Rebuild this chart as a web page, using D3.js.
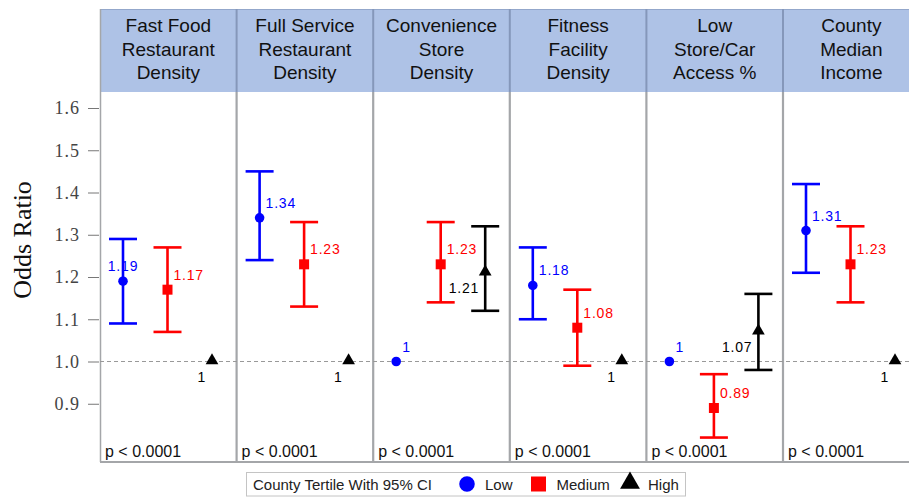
<!DOCTYPE html>
<html>
<head>
<meta charset="utf-8">
<script src="https://cdn.jsdelivr.net/npm/d3@7"></script>
<style>
    body { margin: 0; background: #fff; }
    svg { display: block; }
</style>
</head>
<body>
<svg id="chart" width="909" height="497"></svg>
<script>
// panel titles, one array of lines per panel
const panelTitles = [
    ["Fast Food", "Restaurant", "Density"],
    ["Full Service", "Restaurant", "Density"],
    ["Convenience", "Store", "Density"],
    ["Fitness", "Facility", "Density"],
    ["Low", "Store/Car", "Access %"],
    ["County", "Median", "Income"]
];
const tertiles = ["Low", "Medium", "High"];

// odds ratios and 95% CI per tertile (null = reference, no CI)
const estLow = [1.19, 1.34, 1, 1.18, 1, 1.31];
const lclLow = [1.09, 1.24, null, 1.10, null, 1.21];
const uclLow = [1.29, 1.45, null, 1.27, null, 1.42];

const estMed = [1.17, 1.23, 1.23, 1.08, 0.89, 1.23];
const lclMed = [1.07, 1.13, 1.14, 0.99, 0.82, 1.14];
const uclMed = [1.27, 1.33, 1.33, 1.17, 0.97, 1.32];

const estHigh = [1, 1, 1.21, 1, 1.07, 1];
const lclHigh = [null, null, 1.12, null, 0.98, null];
const uclHigh = [null, null, 1.32, null, 1.16, null];

const pLabels = ["p < 0.0001", "p < 0.0001", "p < 0.0001", "p < 0.0001", "p < 0.0001", "p < 0.0001"];
const yTicks = [0.9, 1.0, 1.1, 1.2, 1.3, 1.4, 1.5, 1.6];
const legendTitle = "County Tertile With 95% CI";

const colors = { Low: "#0000ff", Medium: "#ff0000", High: "#000000" };

const plotLeft = 100, plotTop = 92, plotBottom = 462, headTop = 9;
const panelW = 136.6;

var svg = d3.select("#chart");

var xPanel = d3.scaleBand()
    .domain(d3.range(panelTitles.length))
    .range([plotLeft, plotLeft + panelW * panelTitles.length])
    .padding(0);
var xInner = d3.scalePoint().domain(tertiles).range([23, 112]);
var y = d3.scaleLinear().domain([0.9, 1.6]).range([403.75, 108]);

// build rows
const series = [
    { t: "Low", est: estLow, lcl: lclLow, ucl: uclLow },
    { t: "Medium", est: estMed, lcl: lclMed, ucl: uclMed },
    { t: "High", est: estHigh, lcl: lclHigh, ucl: uclHigh }
];
let rows = [];
for (let s of series) {
    for (let i = 0; i < panelTitles.length; i++) {
        let side = "right";
        if (s.t === "High") side = "belowLeft";
        if (s.t === "Low" && i === 0) side = "above";
        rows.push({ panel: i, t: s.t, est: s.est[i], lcl: s.lcl[i], ucl: s.ucl[i], side: side });
    }
}

// header band
svg.append("rect")
    .attr("x", plotLeft).attr("y", headTop)
    .attr("width", 909 - plotLeft).attr("height", plotTop - headTop)
    .attr("fill", "#aec2e6");
svg.append("line")
    .attr("x1", plotLeft).attr("x2", 909).attr("y1", headTop + 0.5).attr("y2", headTop + 0.5)
    .attr("stroke", "#93a7cb").attr("stroke-width", 1);

var heads = svg.selectAll(".head").data(panelTitles).enter().append("g")
    .attr("class", "head")
    .attr("transform", (d, i) => "translate(" + (xPanel(i) + panelW / 2) + ",0)");
heads.selectAll("text").data(d => d).enter().append("text")
    .attr("x", 0)
    .attr("y", (d, j) => 32 + j * 23.5)
    .attr("text-anchor", "middle")
    .style("font-family", "'Liberation Sans', Arial, sans-serif")
    .style("font-size", "19px")
    .style("fill", "#111")
    .text(d => d);

// panel separators
var seps = d3.range(1, panelTitles.length).map(i => xPanel(i));
svg.selectAll(".sepH").data(seps).enter().append("line")
    .attr("x1", d => d).attr("x2", d => d)
    .attr("y1", headTop).attr("y2", plotTop)
    .attr("stroke", "#8597ba").attr("stroke-width", 2);
svg.selectAll(".sepP").data(seps).enter().append("line")
    .attr("x1", d => d).attr("x2", d => d)
    .attr("y1", plotTop).attr("y2", plotBottom)
    .attr("stroke", "#a4a6a9").attr("stroke-width", 2.2);

// plot border
svg.append("line")
    .attr("x1", plotLeft + 0.5).attr("x2", plotLeft + 0.5)
    .attr("y1", headTop).attr("y2", plotBottom)
    .attr("stroke", "#a4a6a9").attr("stroke-width", 1.5);
svg.append("line")
    .attr("x1", plotLeft).attr("x2", 909)
    .attr("y1", plotBottom).attr("y2", plotBottom)
    .attr("stroke", "#a4a6a9").attr("stroke-width", 2);

// reference line at 1
svg.append("line")
    .attr("x1", plotLeft).attr("x2", 909)
    .attr("y1", y(1)).attr("y2", y(1))
    .attr("stroke", "#999").attr("stroke-width", 1)
    .attr("stroke-dasharray", "4,3");

// y axis
var yAxis = d3.axisLeft(y).tickValues(yTicks).tickFormat(d3.format(".1f")).tickSize(11).tickPadding(8);
var gy = svg.append("g").attr("transform", "translate(" + (plotLeft - 1) + ",0)").call(yAxis);
gy.select(".domain").remove();
gy.selectAll(".tick line").attr("stroke", "#777");
gy.selectAll(".tick text")
    .style("font-family", "'Liberation Serif', 'Times New Roman', serif")
    .style("font-size", "18px")
    .style("letter-spacing", "1px")
    .style("fill", "#444");

svg.append("text")
    .attr("transform", "translate(31,240) rotate(-90)")
    .attr("text-anchor", "middle")
    .style("font-family", "'Liberation Serif', 'Times New Roman', serif")
    .style("font-size", "26px")
    .style("fill", "#111")
    .text("Odds Ratio");

// error bars
var cx = d => xPanel(d.panel) + xInner(d.t);
var bars = rows.filter(d => d.lcl !== null);
var gb = svg.append("g");
gb.selectAll(".stem").data(bars).enter().append("line")
    .attr("x1", cx).attr("x2", cx)
    .attr("y1", d => y(d.lcl)).attr("y2", d => y(d.ucl))
    .attr("stroke", d => colors[d.t]).attr("stroke-width", 2.6);
gb.selectAll(".capU").data(bars).enter().append("line")
    .attr("x1", d => cx(d) - 14).attr("x2", d => cx(d) + 14)
    .attr("y1", d => y(d.ucl)).attr("y2", d => y(d.ucl))
    .attr("stroke", d => colors[d.t]).attr("stroke-width", 2.6);
gb.selectAll(".capL").data(bars).enter().append("line")
    .attr("x1", d => cx(d) - 14).attr("x2", d => cx(d) + 14)
    .attr("y1", d => y(d.lcl)).attr("y2", d => y(d.lcl))
    .attr("stroke", d => colors[d.t]).attr("stroke-width", 2.6);

// markers
var symbols = { Low: d3.symbolCircle, Medium: d3.symbolSquare, High: d3.symbolTriangle };
var sizes = { Low: 72, Medium: 100, High: 70 };
svg.selectAll(".mark").data(rows).enter().append("path")
    .attr("transform", d => "translate(" + cx(d) + "," + (y(d.est) - (d.t === "High" ? 1 : 0)) + ")")
    .attr("d", d => d3.symbol().type(symbols[d.t]).size(sizes[d.t])())
    .attr("fill", d => colors[d.t]);

// value labels
svg.selectAll(".val").data(rows).enter().append("text")
    .attr("x", d => d.side === "right" ? cx(d) + 6 : d.side === "above" ? cx(d) : cx(d) - 6)
    .attr("y", d => d.side === "belowLeft" ? y(d.est) + 20 : y(d.est) - 10)
    .attr("text-anchor", d => d.side === "right" ? "start" : d.side === "above" ? "middle" : "end")
    .style("font-family", "'Liberation Sans', Arial, sans-serif")
    .style("font-size", "14px")
    .style("letter-spacing", "0.8px")
    .style("fill", d => colors[d.t])
    .text(d => String(d.est));

// p-values
svg.selectAll(".pval").data(pLabels).enter().append("text")
    .attr("x", (d, i) => xPanel(i) + 5)
    .attr("y", 457)
    .style("font-family", "'Liberation Sans', Arial, sans-serif")
    .style("font-size", "16px")
    .style("fill", "#111")
    .text(d => d);

// legend
var lg = svg.append("g");
lg.append("rect")
    .attr("x", 246.5).attr("y", 472.5).attr("width", 439).attr("height", 23.5)
    .attr("fill", "#fff").attr("stroke", "#c4c4c4");
lg.append("text")
    .attr("x", 253).attr("y", 489.5)
    .style("font-family", "'Liberation Sans', Arial, sans-serif")
    .style("font-size", "15px")
    .style("fill", "#222")
    .text(legendTitle);
var legendX = d3.scaleOrdinal().domain(tertiles).range([467, 538.5, 630]);
var legendSize = { Low: 190, Medium: 225, High: 170 };
lg.selectAll(".lm").data(tertiles).enter().append("path")
    .attr("transform", d => "translate(" + legendX(d) + "," + (d === "High" ? 483 : 484) + ")")
    .attr("d", d => d3.symbol().type(symbols[d]).size(legendSize[d])())
    .attr("fill", d => colors[d]);
lg.selectAll(".lt").data(tertiles).enter().append("text")
    .attr("x", d => legendX(d) + 18)
    .attr("y", 489.5)
    .style("font-family", "'Liberation Sans', Arial, sans-serif")
    .style("font-size", "15px")
    .style("fill", "#222")
    .text(d => d);
</script>
</body>
</html>
